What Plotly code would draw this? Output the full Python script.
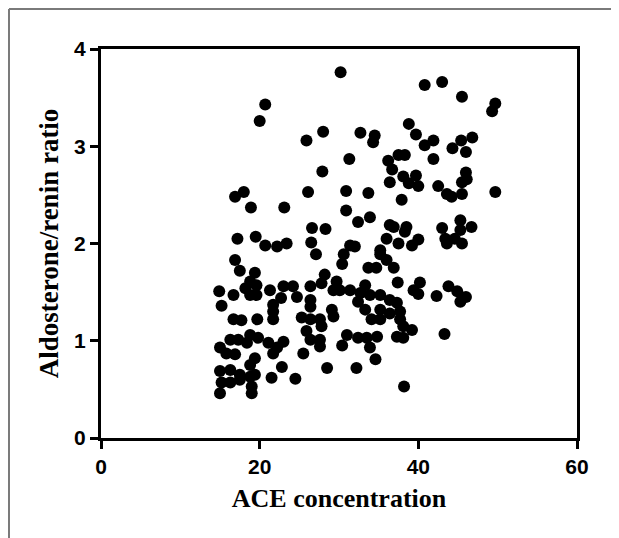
import plotly.graph_objects as go

ace = [
    20.7, 20.0, 18.0, 16.9, 18.9, 23.1, 17.2, 19.5, 20.7, 22.2, 23.4,
    30.2, 40.8, 43.0, 38.8, 39.7, 40.8, 41.9, 41.9, 25.9, 28.0, 32.7, 34.5, 34.3,
    31.3, 36.2, 37.5, 38.3, 36.7, 38.1, 39.7, 38.8, 40.0, 36.4, 42.5, 27.9, 26.1,
    30.9, 33.7, 37.9, 30.9, 32.4, 33.9, 26.6, 28.3, 26.5, 36.4, 36.9, 38.5, 38.3,
    36.0, 37.5, 40.0, 39.2, 31.4, 32.0, 35.2,
    45.5, 49.7, 49.3, 46.8, 45.4, 44.3, 46.0, 46.0, 46.1, 45.5, 43.6, 44.2, 45.5,
    49.7, 43.0, 45.3, 46.7, 45.3, 44.6, 43.4, 45.5, 43.6,
    43.8, 42.3, 44.9, 46.0, 45.3, 43.3,
    27.1, 30.6, 30.4, 35.2, 36.0, 36.9, 33.7, 34.7, 28.2, 37.4, 40.2, 39.4, 40.0,
    24.2, 24.7, 26.4, 27.8, 29.7, 29.3, 30.1, 31.4, 32.7, 33.3, 32.4, 33.9, 35.2,
    36.4, 37.3, 26.4, 26.4, 29.1, 29.3, 33.3, 34.1, 35.2, 35.2, 36.4, 37.7, 37.7,
    25.3, 26.4, 27.6, 25.9, 27.8, 26.4, 27.6, 27.6, 38.1, 39.2, 37.3, 38.1, 31.0,
    32.4, 33.5, 34.8, 30.4, 33.9, 34.6, 25.5, 28.5, 32.2, 24.5, 38.2,
    16.9, 17.5, 19.4, 18.8, 19.6, 18.2, 18.8, 19.6, 21.3, 23.0, 14.9, 16.7, 22.7,
    15.2, 21.7, 21.7, 16.7, 17.7, 19.7, 21.7, 18.8, 19.8, 16.3, 17.3, 18.4, 15.0,
    15.8, 16.9, 21.1, 22.2, 23.0, 21.7, 19.4, 18.8, 22.8, 15.0, 16.3, 17.5, 18.8,
    19.4, 21.5, 15.2, 15.0, 16.3, 19.0, 19.0, 17.5,
]

ratio = [
    3.43, 3.26, 2.53, 2.48, 2.37, 2.37, 2.05, 2.07, 1.98, 1.97, 2.00,
    3.76, 3.63, 3.66, 3.23, 3.12, 3.01, 3.06, 2.87, 3.06, 3.15, 3.14, 3.11, 3.04,
    2.87, 2.85, 2.91, 2.91, 2.76, 2.69, 2.70, 2.62, 2.59, 2.63, 2.59, 2.74, 2.53,
    2.54, 2.52, 2.45, 2.34, 2.22, 2.27, 2.16, 2.15, 2.01, 2.19, 2.17, 2.17, 2.12,
    2.05, 2.00, 2.04, 1.98, 1.98, 1.97, 1.93,
    3.51, 3.44, 3.36, 3.09, 3.06, 2.98, 2.94, 2.73, 2.66, 2.63, 2.51, 2.48, 2.51,
    2.53, 2.16, 2.24, 2.17, 2.14, 2.05, 2.05, 2.00, 2.00,
    1.56, 1.46, 1.51, 1.45, 1.40, 1.07,
    1.89, 1.89, 1.79, 1.89, 1.83, 1.75, 1.75, 1.75, 1.68, 1.60, 1.60, 1.52, 1.48,
    1.56, 1.45, 1.56, 1.59, 1.61, 1.52, 1.52, 1.52, 1.49, 1.57, 1.40, 1.47, 1.47,
    1.42, 1.39, 1.42, 1.35, 1.32, 1.25, 1.32, 1.22, 1.22, 1.32, 1.28, 1.30, 1.22,
    1.24, 1.22, 1.22, 1.10, 1.15, 1.01, 1.01, 0.94, 1.15, 1.11, 1.04, 1.03, 1.06,
    1.03, 1.03, 1.04, 0.95, 0.93, 0.81, 0.87, 0.72, 0.72, 0.61, 0.53,
    1.83, 1.72, 1.70, 1.61, 1.57, 1.54, 1.47, 1.47, 1.52, 1.56, 1.51, 1.47, 1.44,
    1.36, 1.37, 1.30, 1.22, 1.21, 1.22, 1.22, 1.06, 1.03, 1.01, 1.01, 0.98, 0.93,
    0.87, 0.86, 0.98, 0.93, 0.99, 0.87, 0.82, 0.75, 0.73, 0.69, 0.70, 0.65, 0.63,
    0.65, 0.62, 0.57, 0.46, 0.57, 0.53, 0.46, 0.60,
]

x_ticks = [0, 20, 40, 60]
y_ticks = [0, 1, 2, 3, 4]

fig = go.Figure(
    go.Scatter(
        x=ace, y=ratio, mode="markers",
        marker=dict(color="black", size=12, line=dict(width=0)),
        hoverinfo="skip",
    )
)

tick_font = dict(family="Liberation Sans, Arial, sans-serif", size=21, color="black", weight="bold")
xtitle_font = dict(family="Liberation Serif, Times New Roman, serif", size=26, color="black", weight="bold")
ytitle_font = dict(family="Liberation Serif, Times New Roman, serif", size=27, color="black", weight="bold")

axis_common = dict(
    showline=True, linewidth=3, linecolor="black", mirror=True,
    ticks="outside", ticklen=8, tickwidth=2.5, tickcolor="black",
    showgrid=False, zeroline=False, tickfont=tick_font,
)

fig.update_layout(
    width=619, height=538,
    margin=dict(l=93, r=50, t=41, b=108),
    paper_bgcolor="white", plot_bgcolor="white",
    showlegend=False,
    xaxis=dict(range=[0, 60], tickvals=x_ticks, ticktext=[str(v) for v in x_ticks],
               title=dict(text="ACE concentration", font=xtitle_font, standoff=12),
               **axis_common),
    yaxis=dict(range=[0, 4], tickvals=y_ticks, ticktext=[str(v) for v in y_ticks],
               title=dict(text="Aldosterone/renin ratio", font=ytitle_font, standoff=8),
               **axis_common),
    shapes=[
        dict(type="line", xref="paper", yref="paper", x0=-0.1933, x1=-0.1933, y0=-0.4, y1=1.1028,
             line=dict(color="#7a7a7a", width=2)),
        dict(type="line", xref="paper", yref="paper", x0=-0.1933, x1=1.2, y0=1.1028, y1=1.1028,
             line=dict(color="#7a7a7a", width=2)),
    ],
)

fig.write_html("out.html")
